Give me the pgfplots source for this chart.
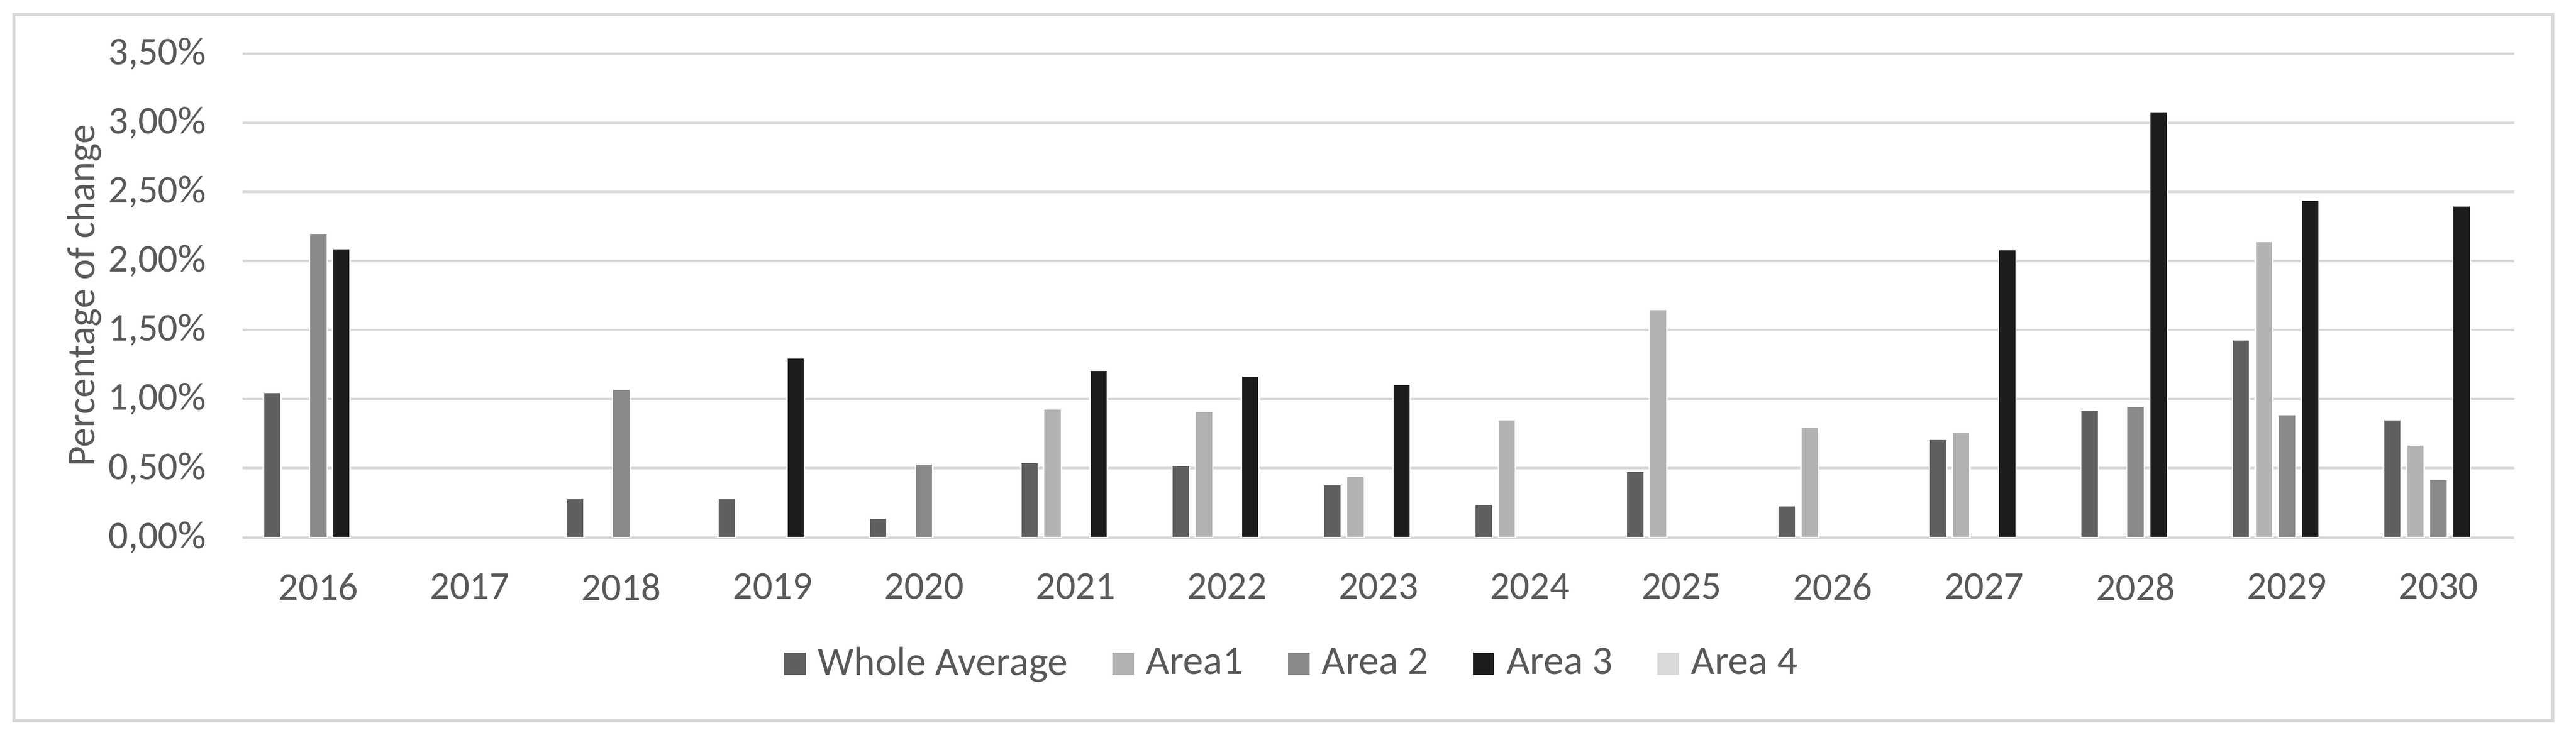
\documentclass[border=0pt]{standalone}
\usepackage{fontspec}
\setmainfont{Carlito}
\usepackage{pgfplots}
\pgfplotsset{compat=1.18}
\definecolor{cwa}{HTML}{5F5F5F}
\definecolor{ca1}{HTML}{B2B2B2}
\definecolor{ca2}{HTML}{8A8A8A}
\definecolor{ca3}{HTML}{1C1C1C}
\definecolor{ca4}{HTML}{D9D9D9}
\definecolor{txt}{HTML}{595959}
\definecolor{gridc}{HTML}{D9D9D9}
\begin{document}
\fontsize{9pt}{11pt}\selectfont
\begin{tikzpicture}
\begin{axis}[
  at={(0,0)}, anchor=south west,
  width=532.6pt, height=113.4pt, scale only axis,
  xmin=-0.5, xmax=14.5, ymin=0, ymax=3.5,
  enlargelimits=false,
  ybar=1.3pt, bar width=4.1pt,
  xtick={0,1,2,3,4,5,6,7,8,9,10,11,12,13,14},
  xticklabels={2016,2017,2018,2019,2020,2021,2022,2023,2024,2025,2026,2027,2028,2029,2030},
  ytick={0,0.5,1,1.5,2,2.5,3,3.5},
  yticklabel={\pgfmathprintnumber[fixed,fixed zerofill,precision=2,use comma]{\tick}\%},
  /pgf/number format/assume math mode=true,
  major tick length=0pt,
  axis line style={draw=none},
  ymajorgrids, xmajorgrids=false,
  grid style={draw=gridc, line width=0.6pt},
  tick label style={font=\fontsize{9.2pt}{11pt}\selectfont, text=txt},
  yticklabel style={anchor=east, inner sep=0pt, xshift=-8.4pt},
  xticklabel style={anchor=north, inner sep=0pt, yshift=-8.25pt},
  ylabel={Percentage of change},
  every axis y label/.style={at={(axis description cs:-0.0652,0.5)}, rotate=90, anchor=base, inner sep=0pt, font=\fontsize{9.2pt}{11pt}\selectfont, text=txt},
  legend columns=-1,
  legend style={at={(axis description cs:0.4615,-0.2619)}, anchor=center, draw=none, fill=none, inner sep=0pt,
    font=\fontsize{9.5pt}{11pt}\selectfont, text=txt, nodes={inner sep=0pt},
    /tikz/every odd column/.append style={column sep=2.9pt},
    /tikz/every even column/.append style={column sep=10.5pt}},
  legend image code/.code={\fill[#1,draw=none] (0pt,-2.6pt) rectangle (5pt,2.6pt);},
]
\addplot[fill=cwa, draw=white, line width=0.3pt] coordinates {
  (0,1.05) (2,0.28) (3,0.28) (4,0.14) (5,0.54) (6,0.52) (7,0.38) (8,0.24) (9,0.48) (10,0.23) (11,0.71) (12,0.92) (13,1.43) (14,0.85)};
\addplot[fill=ca1, draw=white, line width=0.3pt] coordinates {
  (5,0.93) (6,0.91) (7,0.44) (8,0.85) (9,1.65) (10,0.80) (11,0.76) (13,2.14) (14,0.67)};
\addplot[fill=ca2, draw=white, line width=0.3pt] coordinates {
  (0,2.20) (2,1.07) (4,0.53) (12,0.95) (13,0.89) (14,0.42)};
\addplot[fill=ca3, draw=white, line width=0.3pt] coordinates {
  (0,2.09) (3,1.30) (5,1.21) (6,1.17) (7,1.11) (11,2.08) (12,3.08) (13,2.44) (14,2.40)};
\addplot[fill=ca4, draw=none] coordinates {(0,0)};
\legend{Whole Average, Area1, Area 2, Area 3, Area 4}
\end{axis}
\draw[gridc, line width=0.75pt] (-53.6pt,-43pt) rectangle (541.6pt,122.6pt);
\pgfresetboundingbox
\path (-56.9pt,-48.6pt) rectangle (547.1pt,126pt);
\end{tikzpicture}
\end{document}
